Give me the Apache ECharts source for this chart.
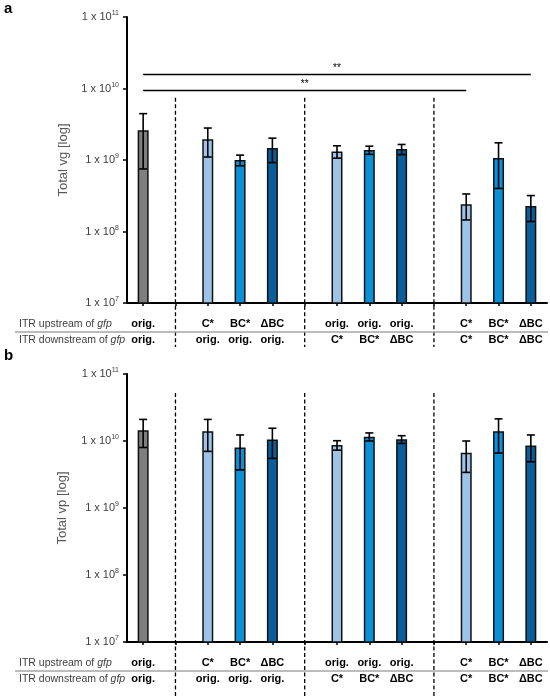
<!DOCTYPE html>
<html>
<head>
<meta charset="utf-8">
<script type="text/javascript" src="https://cdn.jsdelivr.net/npm/echarts@6/dist/echarts.min.js"></script>
<style>
  html, body { margin: 0; padding: 0; background: #fff; }
  #container { width: 550px; height: 696px; }
</style>
</head>
<body>
<div id="container"></div>
<script type="text/javascript">
// categories: 13 slots, empty slots hold the dashed separators
var categories = ['c0', 's1', 'c2', 'c3', 'c4', 's5', 'c6', 'c7', 'c8', 's9', 'c10', 'c11', 'c12'];
var upstream   = ['orig.', '', 'C*', 'BC*', '\u0394BC', '', 'orig.', 'orig.', 'orig.', '', 'C*', 'BC*', '\u0394BC'];
var downstream = ['orig.', '', 'orig.', 'orig.', 'orig.', '', 'C*', 'BC*', '\u0394BC', '', 'C*', 'BC*', '\u0394BC'];
var separators = [1, 5, 9];

// panel a: total vg
var vgMean = [2.6e9, null, 1.95e9, 1.0e9, 1.47e9, null, 1.32e9, 1.38e9, 1.42e9, null, 2.4e8, 1.07e9, 2.28e8];
var vgSd   = [1.85e9, null, 0.85e9, 0.17e9, 0.55e9, null, 0.26e9, 0.18e9, 0.23e9, null, 0.95e8, 0.67e9, 0.9e8];
// panel b: total vp
var vpMean = [1.45e10, null, 1.4e10, 8.0e9, 1.05e10, null, 8.7e9, 1.16e10, 1.06e10, null, 6.7e9, 1.4e10, 8.6e9];
var vpSd   = [0.65e10, null, 0.7e10, 4.3e9, 5.0e9, null, 1.4e9, 1.6e9, 1.4e9, null, 3.3e9, 7.4e9, 3.7e9];

// significance brackets (panel a): from, to, level, label
var sigFrom   = [0, 0];
var sigTo     = [12, 10];
var sigLevel  = [1.6e10, 9.4e9];
var sigLabel  = ['**', '**'];

var barColors = ['#7f7f7f', null, '#9dc3e6', '#0b90d8', '#0a5e9a', null, '#9dc3e6', '#0b90d8', '#0a5e9a', null, '#9dc3e6', '#0b90d8', '#0a5e9a'];

var FONT = 'Liberation Sans';

window.onload = function () {
    var myChart = echarts.init(document.getElementById('container'));

    function barData(mean) {
        return mean.map(function (v, i) {
            return v == null ? null : { value: v, itemStyle: { color: barColors[i] } };
        });
    }
    function errData(mean, sd) {
        var out = [];
        for (var i = 0; i < mean.length; i++) {
            if (mean[i] != null) out.push([i, mean[i] - sd[i], mean[i] + sd[i]]);
        }
        return out;
    }
    function renderErr(params, api) {
        var lo = api.coord([api.value(0), api.value(1)]);
        var hi = api.coord([api.value(0), api.value(2)]);
        var w = 4;
        var st = { stroke: '#000', lineWidth: 1.6 };
        return {
            type: 'group',
            children: [
                { type: 'line', shape: { x1: lo[0], y1: lo[1], x2: hi[0], y2: hi[1] }, style: st },
                { type: 'line', shape: { x1: hi[0] - w, y1: hi[1], x2: hi[0] + w, y2: hi[1] }, style: st },
                { type: 'line', shape: { x1: lo[0] - w, y1: lo[1], x2: lo[0] + w, y2: lo[1] }, style: st }
            ]
        };
    }

    function xAxisOpt(gi) {
        return {
            type: 'category', gridIndex: gi, data: categories,
            axisLine: { lineStyle: { color: '#000', width: 2 } },
            axisTick: { show: true, alignWithLabel: true, interval: 0, length: 3, lineStyle: { color: '#000', width: 1.5 } },
            axisLabel: {
                interval: 0, margin: 13, lineHeight: 16,
                fontFamily: FONT, fontSize: 11, fontWeight: 'bold', color: '#000',
                formatter: function (v, idx) { return upstream[idx] + '\n' + downstream[idx]; }
            }
        };
    }
    function yAxisOpt(gi, name, gap) {
        return {
            type: 'log', logBase: 10, gridIndex: gi, min: 1e7, max: 1e11, interval: 1,
            name: name, nameLocation: 'middle', nameGap: gap, nameRotate: 90,
            nameTextStyle: { fontFamily: FONT, fontSize: 13, color: '#595959' },
            axisLine: { show: true, lineStyle: { color: '#000', width: 2 } },
            axisTick: { show: true, length: 4, lineStyle: { color: '#000', width: 1.5 } },
            splitLine: { show: false },
            axisLabel: {
                margin: 8,
                formatter: function (v) {
                    var e = Math.round(Math.log(v) / Math.LN10);
                    return '{m|1 x 10}{e|' + e + '}';
                },
                rich: {
                    m: { fontFamily: FONT, fontSize: 11, color: '#404040', lineHeight: 14 },
                    e: { fontFamily: FONT, fontSize: 7, color: '#404040', lineHeight: 14, verticalAlign: 'top' }
                }
            }
        };
    }

    var sigLines = sigFrom.map(function (f, k) {
        return [
            { coord: [f, sigLevel[k]], label: { formatter: sigLabel[k] } },
            { coord: [sigTo[k], sigLevel[k]] }
        ];
    });

    var option = {
        animation: false,
        grid: [
            { left: 127, right: 3, top: 17, height: 286 },
            { left: 127, right: 3, top: 374, height: 268 }
        ],
        xAxis: [xAxisOpt(0), xAxisOpt(1)],
        yAxis: [yAxisOpt(0, 'Total vg [log]', 53), yAxisOpt(1, 'Total vp [log]', 58)],
        series: [
            {
                type: 'bar', xAxisIndex: 0, yAxisIndex: 0, barWidth: 11,
                data: barData(vgMean),
                itemStyle: { borderColor: '#111', borderWidth: 1.5 },
                markLine: {
                    silent: true, symbol: ['none', 'none'],
                    lineStyle: { color: '#000', type: 'solid', width: 1.3 },
                    label: { position: 'middle', distance: 1, fontFamily: FONT, fontSize: 10, color: '#000' },
                    data: sigLines
                }
            },
            {
                type: 'custom', xAxisIndex: 0, yAxisIndex: 0, renderItem: renderErr,
                data: errData(vgMean, vgSd), z: 5
            },
            {
                type: 'bar', xAxisIndex: 1, yAxisIndex: 1, barWidth: 11,
                data: barData(vpMean),
                itemStyle: { borderColor: '#111', borderWidth: 1.5 }
            },
            {
                type: 'custom', xAxisIndex: 1, yAxisIndex: 1, renderItem: renderErr,
                data: errData(vpMean, vpSd), z: 5
            }
        ]
    };
    myChart.setOption(option);

    // dashed separators, label row headers and divider lines, panel letters
    var panels = [
        { gi: 0, dashTop: 7.4e9, dashExtra: 44, letter: 'a', letterY: 9 },
        { gi: 1, dashTop: 5.2e10, dashExtra: 56, letter: 'b', letterY: 356 }
    ];
    var graphics = [];
    panels.forEach(function (p) {
        var base = myChart.convertToPixel({ yAxisIndex: p.gi }, 1e7);
        var top = myChart.convertToPixel({ yAxisIndex: p.gi }, p.dashTop);
        separators.forEach(function (c) {
            var x = myChart.convertToPixel({ xAxisIndex: p.gi }, categories[c]);
            graphics.push({
                type: 'line', shape: { x1: x, y1: top, x2: x, y2: base + p.dashExtra },
                style: { stroke: '#000', lineWidth: 1.3, lineDash: [4, 2.5] }
            });
        });
        graphics.push({
            type: 'line', shape: { x1: 15, y1: base + 29, x2: 548, y2: base + 29 },
            style: { stroke: '#a6a6a6', lineWidth: 1.5 }
        });
        [['ITR upstream of ', 21], ['ITR downstream of ', 37]].forEach(function (r) {
            graphics.push({
                type: 'text', x: 19, y: base + r[1],
                style: {
                    text: '{n|' + r[0] + '}{i|gfp}', verticalAlign: 'middle',
                    rich: {
                        n: { fontFamily: FONT, fontSize: 10.5, fill: '#404040' },
                        i: { fontFamily: FONT, fontSize: 10.5, fill: '#404040', fontStyle: 'italic' }
                    }
                }
            });
        });
        graphics.push({
            type: 'text', x: 4, y: p.letterY,
            style: { text: p.letter, fontFamily: FONT, fontSize: 15, fontWeight: 'bold', fill: '#000', verticalAlign: 'middle' }
        });
    });
    myChart.setOption({ graphic: graphics });
};
</script>
</body>
</html>
